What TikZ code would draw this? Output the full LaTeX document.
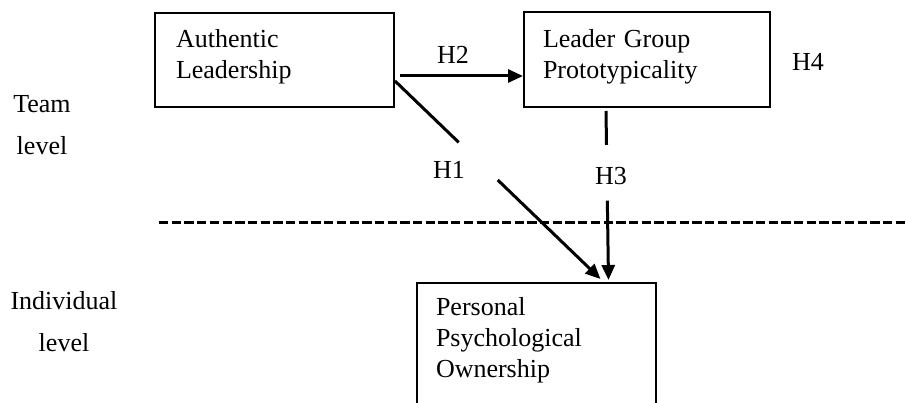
\documentclass[tikz,border=0pt]{standalone}
\usepackage{fontspec}
\setmainfont{Liberation Serif}
\usetikzlibrary{arrows.meta,calc}
\tikzset{
  varbox/.style={draw,line width=2pt,anchor=north west,align=left,inner ysep=0pt,
    font=\fontsize{26}{31}\selectfont},
  hyp/.style={inner sep=0pt,font=\fontsize{26}{31}\selectfont},
  levellab/.style={align=center,inner sep=0pt,font=\fontsize{26}{42}\selectfont},
  link/.style={line width=3pt},
  arr/.style={link,-{Triangle[length=15pt,width=13pt]}},
  divider/.style={line width=3pt,dash pattern=on 9.3pt off 3.4pt}
}
\begin{document}
\begin{tikzpicture}[x=1pt,y=-1pt]
\useasboundingbox (0,0) rectangle (906,403);
\clip (0,0) rectangle (906,403);
\node[varbox,inner xsep=21pt,text width=197pt,text height=35pt,text depth=59pt] (al) at (154,12) {Authentic\\Leadership};
\node[varbox,inner xsep=19pt,text width=208pt,text height=36pt,text depth=59pt] (lgp) at (523,11) {Leader Group\\Prototypicality};
\node[varbox,inner xsep=19pt,text width=201pt,text height=33pt,text depth=200pt] (ppo) at (416,282) {Personal\\Psychological\\Ownership};
\node[levellab] (team) at (42,125.5) {Team\\level};
\node[levellab] (indiv) at (64,322) {Individual\\level};
\node[hyp] (h1) at (449,170) {H1}; \node[hyp] (h2) at (453,55) {H2};
\node[hyp] (h3) at (611,176) {H3}; \node[hyp] (h4) at (808,62) {H4};
\coordinate (divl) at (159,223); \coordinate (divr) at (906,223);
\draw[divider] (divl) -- (divr);
\draw[arr] ([xshift=5pt,yshift=-16pt]al.east) -- ([yshift=-16.5pt]lgp.west);
\coordinate (s1) at ([yshift=-21pt]al.east); \coordinate (e1) at ([xshift=64pt,yshift=3pt]ppo.north);
\coordinate (s3) at ([xshift=-41pt,yshift=-3pt]lgp.south); \coordinate (e3) at ([xshift=72pt,yshift=2pt]ppo.north);
\draw[link] (s1) -- ($(s1)!.31!(e1)$); \draw[arr] ($(s1)!.5!(e1)$) -- (e1);
\draw[link] (s3) -- ($(s3)!.2!(e3)$); \draw[arr] ($(s3)!.53!(e3)$) -- (e3);
\end{tikzpicture}
\end{document}
